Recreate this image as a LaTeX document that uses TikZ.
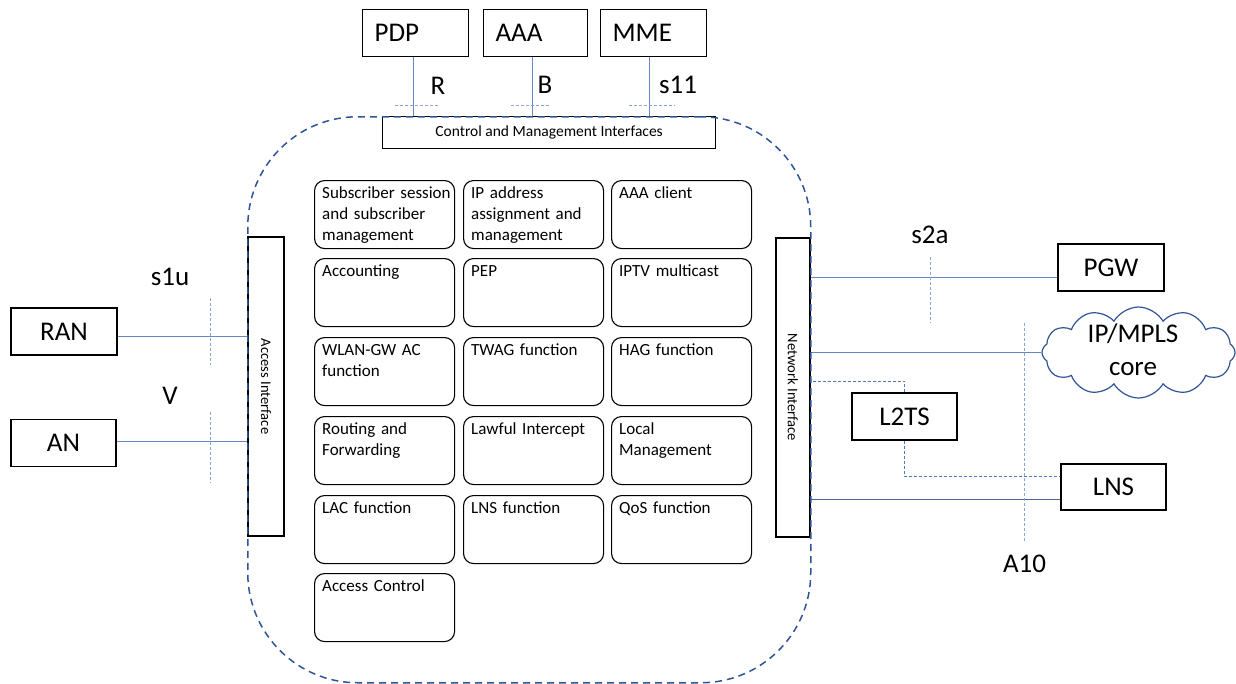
\documentclass[tikz,border=0pt]{standalone}
\usepackage{fontspec}
\usepackage{graphicx}
\setmainfont{Carlito}
\usetikzlibrary{shapes.symbols}
\definecolor{frameblue}{RGB}{47,85,151}
\definecolor{linkblue}{RGB}{105,135,195}
\definecolor{linkdark}{RGB}{75,100,150}
\definecolor{refblue}{RGB}{140,165,215}
\definecolor{tunnelblue}{RGB}{80,120,195}
\begin{document}
\begin{tikzpicture}[x=1pt,y=-1pt,
  every node/.style={font=\fontsize{27}{33}\selectfont},
  topbox/.style={draw, line width=1.2pt, anchor=north west, minimum height=47pt,
    inner xsep=12pt, inner ysep=0pt, align=left},
  extbox/.style={draw, line width=1.2pt, minimum height=47pt, minimum width=106pt, inner sep=0pt},
  ifbox/.style={draw, line width=1.2pt, minimum height=299pt, inner sep=0pt,
    font=\fontsize{14.6}{17}\selectfont},
  fbox/.style={draw, line width=1.1pt, rounded corners=10pt, minimum width=140pt,
    minimum height=68pt, anchor=north west, inner sep=0pt},
  ftext/.style={anchor=north west, align=left, inner xsep=8pt, inner ysep=3.3pt,
    text width=140pt, font=\fontsize{17}{21}\selectfont},
  iflabel/.style={anchor=base},
  link/.style={draw=linkblue, line width=0.9pt},
  darklink/.style={draw=linkdark, line width=0.9pt},
  refline/.style={draw=refblue, line width=0.8pt, dash pattern=on 3pt off 2pt},
  tunnel/.style={draw=tunnelblue, line width=0.9pt, dash pattern=on 3pt off 2pt},
  frame/.style={draw=frameblue, line width=1.5pt, dash pattern=on 7pt off 5pt,
    rounded corners=110pt, anchor=north west, inner sep=0pt}
]
\useasboundingbox (0,0) rectangle (1236,683);

% ---- control plane peers ----
\node[topbox, text width=82pt] (pdp) at (362,9) {PDP};
\node[topbox, text width=80pt] (aaa) at (483,9) {AAA};
\node[topbox, text width=82pt] (mme) at (600,9) {MME};
\node[draw, line width=1.2pt, anchor=north west, minimum width=333pt, minimum height=32pt,
  inner sep=0pt, font=\fontsize{15.5}{18}\selectfont] (cmi) at (382,116)
  {Control and Management Interfaces};

\draw[link] ([xshift=51pt]pdp.south west) coordinate (r1) -- (r1 |- cmi.north);
\draw[link] ([xshift=49pt]aaa.south west) coordinate (b1) -- (b1 |- cmi.north);
\draw[link] ([xshift=49pt]mme.south west) coordinate (s1) -- (s1 |- cmi.north);

\node[iflabel] (lr) at (438,94) {R};
\node[iflabel] (lb) at (545,93) {B};
\node[iflabel] (ls11) at (678,93) {s11};
\draw[refline] (395,105) -- (438,105);
\draw[refline] (511,105) -- (550,105);
\draw[refline] (629,105) -- (675,105);

% ---- interfaces of the node ----
\node[ifbox, minimum width=36pt] (ai) at (266,386.5) {\rotatebox{-90}{Access Interface}};
\node[ifbox, minimum width=34pt] (ni) at (793,387.5) {\rotatebox{-90}{Network Interface}};

% ---- function blocks ----
\foreach \name/\x/\y/\txt in {
  f11/314/180/{Subscriber session\\and subscriber\\management},
  f12/463/180/{IP address\\assignment and\\management},
  f13/611/180/{AAA client},
  f21/314/258/{Accounting},
  f22/463/258/{PEP},
  f23/611/258/{IPTV multicast},
  f31/314/337/{WLAN-GW AC\\function},
  f32/463/337/{TWAG function},
  f33/611/337/{HAG function},
  f41/314/416/{Routing and\\Forwarding},
  f42/463/416/{Lawful Intercept},
  f43/611/416/{Local\\Management},
  f51/314/495/{LAC function},
  f52/463/495/{LNS function},
  f53/611/495/{QoS function},
  f61/314/573/{Access Control}}
{
  \node[fbox] (\name) at (\x,\y) {};
  \node[ftext] (\name t) at (\name.north west) {\strut\txt};
}

% ---- access side ----
\node[extbox] (ran) at (64,331.5) {RAN};
\node[extbox, minimum width=105pt] (an) at (63.5,443) {AN};
\path ([yshift=-4.5pt]ran.east) coordinate (ranout);
\draw[link] (ranout) -- (ranout -| ai.west);
\path ([yshift=1.5pt]an.east) coordinate (anout);
\draw[link] (anout) -- (anout -| ai.west);
\node[iflabel] (ls1u) at (170,285) {s1u};
\node[iflabel] (lv) at (170,404) {V};
\draw[refline] (210,298) -- (210,365);
\draw[refline] (210,412) -- (210,483);

% ---- network side ----
\node[extbox] (pgw) at (1111,267.5) {PGW};
\node[cloud, draw=frameblue, line width=1.2pt, cloud puffs=12, cloud puff arc=120,
  aspect=2.1, minimum width=193pt, minimum height=91pt, inner sep=0pt] (core) at (1138.5,352.5) {};
\node[align=center] (coretxt) at (1133,349.5) {IP/MPLS\\core};
\node[extbox, minimum width=105pt] (l2ts) at (904.5,416.5) {L2TS};
\node[extbox, minimum width=105pt, minimum height=46pt] (lns) at (1113.5,487) {LNS};

\path ([yshift=-9.5pt]pgw.west) coordinate (pgwin);
\draw[link] (pgwin -| ni.east) -- (pgwin);
\draw[link] (ni.east |- core.west) -- (core.west);
\path ([yshift=-12pt]lns.west) coordinate (lnsin);
\draw[darklink] (lnsin -| ni.east) -- (lnsin);
\draw[tunnel] (l2ts.north) -- ++(0,-11) coordinate (tk) -- (tk -| ni.east);
\draw[tunnel] (l2ts.south) |- ([yshift=11pt]lns.west);

\node[iflabel] (ls2a) at (930,243) {s2a};
\draw[refline] (930,257) -- (930,323);
\node[iflabel] (la10) at (1024.5,572) {A10};
\draw[refline] (1024,323) -- (1024,541);

% ---- boundary of the broadband node ----
\node[frame, minimum width=563pt, minimum height=566pt] (bng) at (247,116) {};
\end{tikzpicture}
\end{document}
